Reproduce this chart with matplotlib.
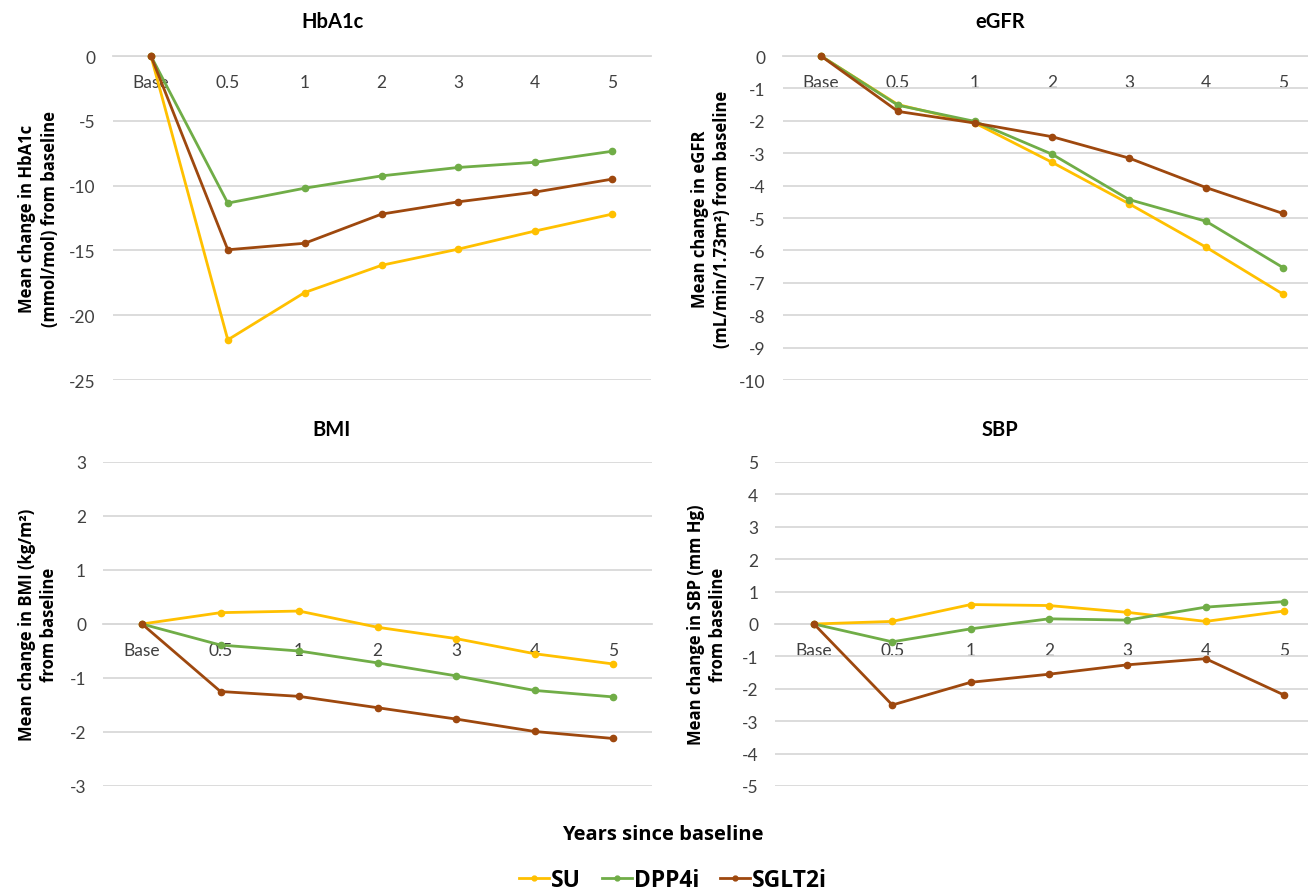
import matplotlib
matplotlib.use("Agg")
import matplotlib.pyplot as plt
from matplotlib.lines import Line2D

plt.rcParams['font.family'] = ['Lato', 'DejaVu Sans']
WIDE = ['Open Sans', 'DejaVu Sans']

categories = ["Base", "0.5", "1", "2", "3", "4", "5"]
series_names = ["SU", "DPP4i", "SGLT2i"]
colors = ["#FFC000", "#70AD47", "#9E480E"]

hba1c_su = [0, -21.9, -18.25, -16.15, -14.9, -13.5, -12.2]
hba1c_dpp4i = [0, -11.35, -10.2, -9.25, -8.6, -8.2, -7.35]
hba1c_sglt2i = [0, -14.95, -14.45, -12.2, -11.25, -10.5, -9.5]

egfr_su = [0, -1.5, -2.07, -3.28, -4.56, -5.9, -7.35]
egfr_dpp4i = [0, -1.52, -2.02, -3.03, -4.43, -5.1, -6.53]
egfr_sglt2i = [0, -1.71, -2.07, -2.49, -3.15, -4.06, -4.86]

bmi_su = [0, 0.21, 0.24, -0.06, -0.27, -0.55, -0.74]
bmi_dpp4i = [0, -0.39, -0.5, -0.72, -0.96, -1.23, -1.35]
bmi_sglt2i = [0, -1.25, -1.34, -1.55, -1.76, -1.99, -2.12]

sbp_su = [0, 0.08, 0.6, 0.57, 0.36, 0.08, 0.4]
sbp_dpp4i = [0, -0.55, -0.15, 0.16, 0.12, 0.52, 0.69]
sbp_sglt2i = [0, -2.5, -1.8, -1.55, -1.26, -1.07, -2.19]

W, H = 1308, 895
fig = plt.figure(figsize=(W / 100, H / 100), dpi=100)

def fx(px):
    return px / W

def fy(py):
    return 1 - py / H

panels = [
    dict(title="HbA1c", data=[hba1c_su, hba1c_dpp4i, hba1c_sglt2i],
         rect=(112.5, 57, 650.6, 381), xmax=6.5, ylim=(-25, 0), step=5,
         ylabel="Mean change in HbA1c\n(mmol/mol) from baseline",
         title_xy=(333, 22), ylabel_x=38.5),
    dict(title="eGFR", data=[egfr_su, egfr_dpp4i, egfr_sglt2i],
         rect=(782.5, 57, 1308, 381), xmax=6.325, ylim=(-10, 0), step=1,
         ylabel="Mean change in eGFR\n(mL/min/1.73m\u00b2) from baseline",
         title_xy=(1000, 22), ylabel_x=711),
    dict(title="BMI", data=[bmi_su, bmi_dpp4i, bmi_sglt2i],
         rect=(102.75, 463, 652.25, 787), xmax=6.5, ylim=(-3, 3), step=1,
         ylabel="Mean change in BMI (kg/m\u00b2)\nfrom baseline",
         title_xy=(331, 430), ylabel_x=38),
    dict(title="SBP", data=[sbp_su, sbp_dpp4i, sbp_sglt2i],
         rect=(774.8, 463, 1308, 787), xmax=6.307, ylim=(-5, 5), step=1,
         ylabel="Mean change in SBP (mm Hg)\nfrom baseline",
         title_xy=(1000, 430), ylabel_x=707),
]

grid_col = "#D9D9D9"
text_col = "#404040"

for p in panels:
    l, t, r, b = p["rect"]
    ax = fig.add_axes([fx(l), fy(b), fx(r - l), (b - t) / H])
    x = list(range(len(categories)))
    for vals, c in zip(p["data"], colors):
        ax.plot(x, vals, color=c, lw=2.0, marker="o", ms=4.5, mec=c, mfc=c,
                solid_capstyle="round", clip_on=False, zorder=3)
    ax.set_xlim(-0.5, p["xmax"])
    lo, hi = p["ylim"]
    ax.set_ylim(lo, hi)
    ticks = list(range(lo, hi + 1, p["step"]))
    ax.set_yticks(ticks)
    ax.set_yticklabels([str(v) for v in ticks])
    ax.set_xticks(x)
    ax.set_xticklabels(categories)
    ax.grid(axis="y", color=grid_col, lw=1.3)
    ax.grid(axis="x", visible=False)
    for s in ["top", "right", "left"]:
        ax.spines[s].set_visible(False)
    ax.spines["bottom"].set_position(("data", 0))
    ax.spines["bottom"].set_color(grid_col)
    ax.spines["bottom"].set_linewidth(1.3)
    ax.tick_params(axis="x", length=0, pad=13, labelsize=12.5, labelcolor=text_col)
    ax.tick_params(axis="y", length=0, pad=12, labelsize=12.5, labelcolor=text_col)
    ax.patch.set_alpha(0)
    fig.text(fx(p["title_xy"][0]), fy(p["title_xy"][1]), p["title"],
             ha="center", va="center", fontsize=14.5, fontweight="bold", color="#000000")
    fig.text(fx(p["ylabel_x"]), fy((t + b) / 2), p["ylabel"], rotation=90,
             ha="center", va="center", multialignment="center", family=WIDE,
             fontsize=12, fontweight="bold", color="#000000", linespacing=1.3)

fig.text(fx(663), fy(835), "Years since baseline", ha="center", va="center",
         family=WIDE, fontsize=14.5, fontweight="bold", color="#000000")

handles = [Line2D([0], [0], color=c, lw=2.0, marker="o", ms=3.5, mfc=c, mec=c)
           for c in colors]
leg = fig.legend(handles, series_names, loc="center", bbox_to_anchor=(fx(673), fy(881)),
                 ncol=3, frameon=False, handlelength=1.3, handletextpad=0.1,
                 columnspacing=0.9, prop=dict(family=WIDE, size=16.5, weight="bold"))

fig.savefig("out.png", dpi=100)
